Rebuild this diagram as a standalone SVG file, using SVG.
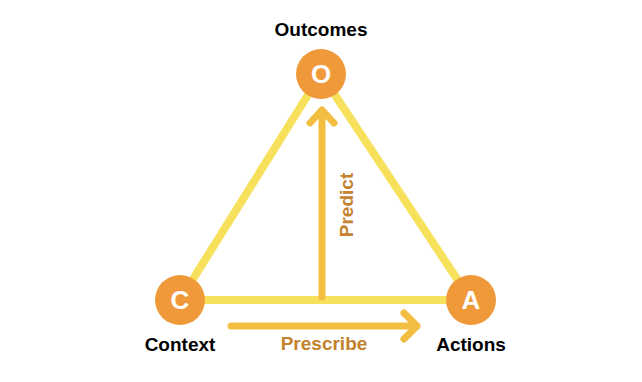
<svg xmlns="http://www.w3.org/2000/svg" width="642" height="382" viewBox="0 0 642 382">
<style>
.tri{stroke:#F7E15C;stroke-width:8;fill:none;stroke-linecap:round}
.arr{stroke:#F2BD40;stroke-width:7;fill:none;stroke-linecap:round;stroke-linejoin:round}
.node{fill:#F0993A}
.letter{font-family:"Liberation Sans",Arial,sans-serif;font-weight:bold;font-size:26px;fill:#fff;text-anchor:middle}
.label{font-family:"Liberation Sans",Arial,sans-serif;font-weight:bold;font-size:19px;fill:#000;text-anchor:middle}
.alabel{font-family:"Liberation Sans",Arial,sans-serif;font-weight:bold;font-size:19px;fill:#C4822C;text-anchor:middle}
</style>
<rect width="642" height="382" fill="#fff"/>
<g id="connectors">
<line class="tri" x1="321" y1="74" x2="180" y2="300"/>
<line class="tri" x1="321" y1="74" x2="471" y2="300"/>
<line class="tri" x1="180" y1="300" x2="471" y2="300"/>
<path class="arr" d="M322 297 V110 M310 123 L322 110 L334 123"/>
<path class="arr" d="M231 326 H417 M404 313 L417 326 L404 339"/>
<text class="alabel" transform="translate(353 205) rotate(-90)">Predict</text>
<text class="alabel" x="324" y="350">Prescribe</text>
</g>
<g id="node-O">
<circle class="node" cx="321" cy="74" r="25"/>
<text class="letter" x="321" y="83">O</text>
<text class="label" x="321" y="36">Outcomes</text>
</g>
<g id="node-C">
<circle class="node" cx="180" cy="300" r="25"/>
<text class="letter" x="180" y="309">C</text>
<text class="label" x="180" y="351">Context</text>
</g>
<g id="node-A">
<circle class="node" cx="471" cy="300" r="25"/>
<text class="letter" x="471" y="309">A</text>
<text class="label" x="471" y="351">Actions</text>
</g>
</svg>
